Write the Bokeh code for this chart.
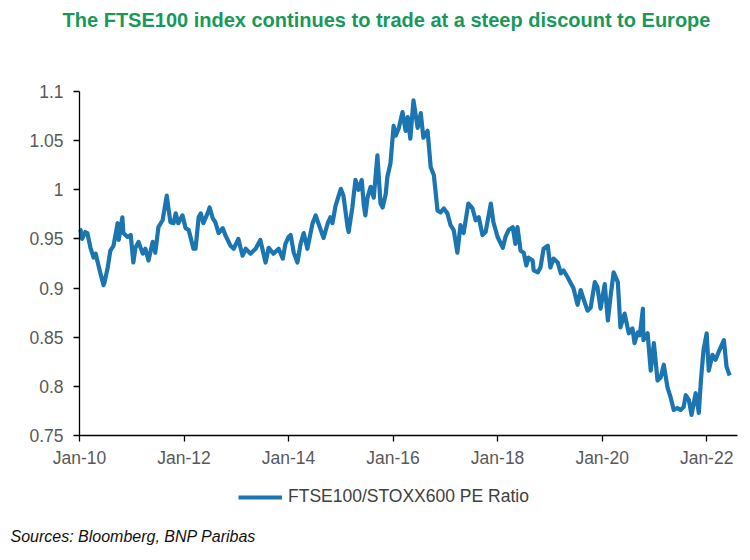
from bokeh.plotting import figure
from bokeh.models import FixedTicker, Label, Legend, LegendItem, Range1d
from bokeh.embed import file_html
from bokeh.resources import INLINE

title_text = "The FTSE100 index continues to trade at a steep discount to Europe"
series_name = "FTSE100/STOXX600 PE Ratio"
source_text = "Sources: Bloomberg, BNP Paribas"

x_tick_values = [2010, 2012, 2014, 2016, 2018, 2020, 2022]
x_tick_labels = ["Jan-10", "Jan-12", "Jan-14", "Jan-16", "Jan-18", "Jan-20", "Jan-22"]
y_tick_values = [0.75, 0.8, 0.85, 0.9, 0.95, 1.0, 1.05, 1.1]
y_tick_labels = ["0.75", "0.8", "0.85", "0.9", "0.95", "1", "1.05", "1.1"]

x_axis_span = (2010, 2022.59)   # extent of the drawn x axis
y_axis_span = (0.75, 1.1)       # extent of the drawn y axis

years = [
    2010.00, 2010.02, 2010.05, 2010.11, 2010.15, 2010.21, 2010.27, 2010.31, 2010.34, 2010.40,
    2010.46, 2010.48, 2010.54, 2010.59, 2010.65, 2010.73, 2010.75, 2010.82, 2010.84, 2010.92,
    2010.98, 2011.03, 2011.07, 2011.13, 2011.21, 2011.26, 2011.32, 2011.40, 2011.45, 2011.51,
    2011.59, 2011.67, 2011.70, 2011.74, 2011.80, 2011.84, 2011.89, 2011.97, 2012.03, 2012.09,
    2012.18, 2012.22, 2012.28, 2012.32, 2012.37, 2012.45, 2012.49, 2012.55, 2012.60, 2012.66,
    2012.74, 2012.79, 2012.89, 2012.95, 2013.04, 2013.12, 2013.18, 2013.27, 2013.37, 2013.46,
    2013.56, 2013.62, 2013.71, 2013.81, 2013.89, 2013.94, 2014.00, 2014.04, 2014.10, 2014.17,
    2014.23, 2014.29, 2014.36, 2014.46, 2014.52, 2014.57, 2014.67, 2014.75, 2014.80, 2014.84,
    2014.90, 2015.00, 2015.05, 2015.13, 2015.15, 2015.22, 2015.28, 2015.34, 2015.40, 2015.44,
    2015.47, 2015.51, 2015.57, 2015.63, 2015.70, 2015.76, 2015.80, 2015.86, 2015.89, 2015.95,
    2016.01, 2016.05, 2016.11, 2016.18, 2016.24, 2016.28, 2016.33, 2016.39, 2016.47, 2016.53,
    2016.58, 2016.66, 2016.72, 2016.78, 2016.85, 2016.91, 2016.97, 2017.04, 2017.10, 2017.16,
    2017.23, 2017.29, 2017.35, 2017.44, 2017.52, 2017.58, 2017.64, 2017.71, 2017.77, 2017.87,
    2017.92, 2018.00, 2018.10, 2018.15, 2018.21, 2018.29, 2018.34, 2018.38, 2018.44, 2018.50,
    2018.55, 2018.59, 2018.67, 2018.69, 2018.77, 2018.82, 2018.88, 2018.96, 2019.01, 2019.07,
    2019.15, 2019.21, 2019.26, 2019.34, 2019.40, 2019.45, 2019.53, 2019.59, 2019.65, 2019.72,
    2019.78, 2019.86, 2019.91, 2019.97, 2020.05, 2020.11, 2020.16, 2020.22, 2020.30, 2020.35,
    2020.43, 2020.51, 2020.58, 2020.62, 2020.68, 2020.72, 2020.78, 2020.79, 2020.87, 2020.93,
    2020.99, 2021.06, 2021.12, 2021.18, 2021.25, 2021.31, 2021.37, 2021.44, 2021.50, 2021.56,
    2021.60, 2021.66, 2021.71, 2021.79, 2021.85, 2021.89, 2021.94, 2022.00, 2022.04, 2022.11,
    2022.17, 2022.23, 2022.33, 2022.38, 2022.44,
]

pe_ratio = [
    0.960, 0.959, 0.950, 0.957, 0.956, 0.941, 0.931, 0.935, 0.928, 0.915,
    0.903, 0.906, 0.921, 0.938, 0.943, 0.966, 0.949, 0.972, 0.956, 0.952,
    0.954, 0.926, 0.941, 0.947, 0.935, 0.940, 0.928, 0.947, 0.936, 0.962,
    0.969, 0.994, 0.982, 0.967, 0.966, 0.976, 0.966, 0.974, 0.961, 0.959,
    0.940, 0.940, 0.972, 0.976, 0.966, 0.976, 0.982, 0.971, 0.967, 0.956,
    0.961, 0.954, 0.943, 0.940, 0.950, 0.933, 0.940, 0.935, 0.940, 0.949,
    0.926, 0.941, 0.935, 0.940, 0.930, 0.945, 0.952, 0.954, 0.936, 0.926,
    0.945, 0.956, 0.940, 0.966, 0.974, 0.966, 0.951, 0.966, 0.972, 0.966,
    0.984, 1.001, 0.994, 0.962, 0.957, 0.982, 1.010, 1.000, 1.010, 0.984,
    0.974, 0.992, 1.003, 0.992, 1.035, 0.986, 0.982, 0.996, 1.013, 1.027,
    1.065, 1.055, 1.063, 1.079, 1.060, 1.074, 1.052, 1.091, 1.063, 1.078,
    1.053, 1.060, 1.023, 1.015, 0.979, 0.977, 0.981, 0.976, 0.964, 0.959,
    0.936, 0.964, 0.956, 0.986, 0.981, 0.969, 0.972, 0.954, 0.957, 0.986,
    0.967, 0.952, 0.941, 0.952, 0.959, 0.962, 0.945, 0.962, 0.938, 0.936,
    0.923, 0.931, 0.928, 0.918, 0.916, 0.921, 0.940, 0.943, 0.921, 0.930,
    0.926, 0.915, 0.918, 0.911, 0.905, 0.900, 0.883, 0.898, 0.888, 0.877,
    0.880, 0.906, 0.901, 0.879, 0.904, 0.867, 0.891, 0.916, 0.906, 0.860,
    0.874, 0.854, 0.859, 0.844, 0.855, 0.852, 0.879, 0.847, 0.854, 0.816,
    0.844, 0.806, 0.809, 0.822, 0.799, 0.789, 0.776, 0.778, 0.776, 0.779,
    0.791, 0.786, 0.771, 0.793, 0.773, 0.806, 0.837, 0.854, 0.816, 0.832,
    0.827, 0.835, 0.847, 0.820, 0.811,
]

LINE_COLOR = "#1b75b0"
TICK_COLOR = "#595959"
FONT = "Liberation Sans"

W, H = 745, 558
# pixel placement of the chart's axes inside the canvas
AX_LEFT, AX_RIGHT, AX_TOP, AX_BOTTOM = 79, 737, 91, 435
px_per_x = (AX_RIGHT - AX_LEFT) / (x_axis_span[1] - x_axis_span[0])
px_per_y = (AX_BOTTOM - AX_TOP) / (y_axis_span[1] - y_axis_span[0])
x_range = Range1d(x_axis_span[0] - AX_LEFT / px_per_x, x_axis_span[1] + (W - AX_RIGHT) / px_per_x)
y_range = Range1d(y_axis_span[0] - (H - AX_BOTTOM) / px_per_y, y_axis_span[1] + AX_TOP / px_per_y)

p = figure(
    width=W, height=H,
    output_backend="svg", toolbar_location=None,
    x_range=x_range, y_range=y_range,
    min_border_left=0, min_border_right=0, min_border_top=0, min_border_bottom=0,
)
p.outline_line_color = None
p.grid.visible = False
p.background_fill_color = "white"

r = p.line(years, pe_ratio, line_color=LINE_COLOR, line_width=4.2, line_join="round")

for ax in (p.xaxis[0], p.yaxis[0]):
    ax.axis_line_color = "#000000"
    ax.axis_line_width = 1.3
    ax.major_tick_line_color = "#000000"
    ax.major_tick_line_width = 1.3
    ax.major_tick_in = 0
    ax.major_tick_out = 6
    ax.minor_tick_line_color = None
    ax.major_label_text_font = FONT
    ax.major_label_text_font_size = "17.5px"
    ax.major_label_text_color = TICK_COLOR

p.xaxis.fixed_location = y_axis_span[0]
p.xaxis.bounds = x_axis_span
p.xaxis.ticker = FixedTicker(ticks=x_tick_values)
p.xaxis.major_label_overrides = dict(zip(x_tick_values, x_tick_labels))
p.xaxis.major_label_standoff = 6

p.yaxis.fixed_location = x_axis_span[0]
p.yaxis.bounds = y_axis_span
p.yaxis.ticker = FixedTicker(ticks=y_tick_values)
p.yaxis.major_label_overrides = dict(zip(y_tick_values, y_tick_labels))
p.yaxis.major_label_standoff = 10

p.add_layout(Label(
    x=386, y=H - 19, x_units="screen", y_units="screen", text=title_text,
    text_align="center", text_baseline="middle", text_font=FONT,
    text_font_style="bold", text_font_size="20px", text_color="#17995b",
))

legend = Legend(
    items=[LegendItem(label=series_name, renderers=[r])],
    location=(238, H - 507), glyph_width=44, glyph_height=20, label_standoff=6,
    padding=0, margin=0, border_line_color=None, background_fill_alpha=0,
    label_text_font=FONT, label_text_font_size="17.5px", label_text_color="#404040",
)
p.add_layout(legend)

p.add_layout(Label(
    x=10, y=H - 536, x_units="screen", y_units="screen", text=source_text,
    text_align="left", text_baseline="middle", text_font=FONT,
    text_font_style="italic", text_font_size="16px", text_color="#111111",
))

open("out.html", "w").write(file_html(p, INLINE))
